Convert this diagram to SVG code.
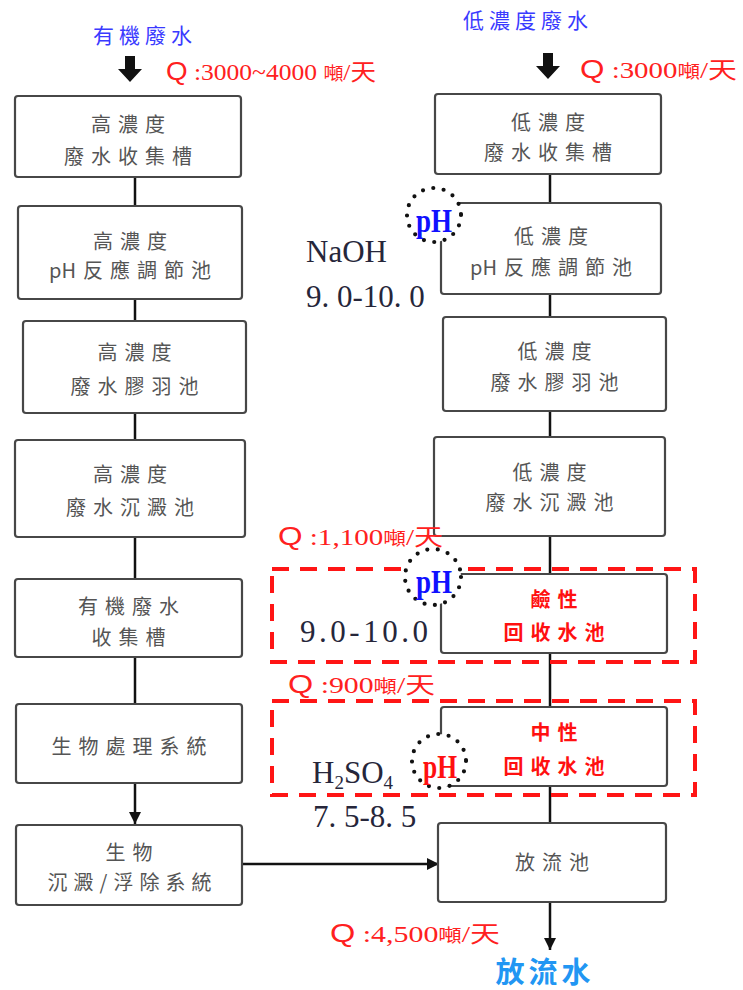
<svg xmlns="http://www.w3.org/2000/svg" width="743" height="990" viewBox="0 0 743 990">
<style>
.box{fill:#fff;stroke:#474747;stroke-width:2.2}
.bt{font-family:"Noto Sans CJK TC","Noto Sans CJK SC",sans-serif;font-size:20px;fill:#555;letter-spacing:7px;text-anchor:middle}
.rt{font-family:"Noto Sans CJK TC","Noto Sans CJK SC",sans-serif;font-size:20px;fill:#ff1010;font-weight:bold;letter-spacing:7px;text-anchor:middle}
.ln{stroke:#111;stroke-width:2.5;fill:none}
.dash{fill:none;stroke:#ff1515;stroke-width:4;stroke-dasharray:17 11}
.ring{fill:#fff;stroke:#111;stroke-width:4.2;stroke-linecap:round;stroke-dasharray:0 10.5}
.ph{font-family:"Liberation Serif",serif;font-weight:bold;font-size:34px;text-anchor:middle}
.chem{font-family:"Liberation Serif",serif;font-size:31px;fill:#26263a}
.q{font-family:"Liberation Serif","Noto Sans CJK TC",serif;font-size:23px;fill:#ff2020}
.qq{font-family:"Liberation Sans",sans-serif;font-size:25px}
.top{font-family:"Noto Sans CJK TC","Noto Sans CJK SC",sans-serif;font-size:21px;fill:#3a3aff;letter-spacing:5px;text-anchor:middle}
</style>
<defs>
<marker id="ah" viewBox="0 0 10 10" refX="10" refY="5" markerWidth="5" markerHeight="5" orient="auto" markerUnits="strokeWidth">
<path d="M0,0 L10,5 L0,10 z" fill="#111"/>
</marker>
</defs>

<g id="labels-top">
<text class="top" x="145" y="43">有機廢水</text>
<text class="top" x="528" y="28">低濃度廢水</text>
<path d="M125,56 H135 V69 H142 L130,82 L118,69 H125 Z" fill="#111"/>
<path d="M543,53 H553 V66 H560 L548,79 L536,66 H543 Z" fill="#111"/>
<text class="q" x="166" y="80" textLength="210" lengthAdjust="spacingAndGlyphs"><tspan class="qq">Q</tspan> :3000~4000 <tspan font-size="18">噸</tspan>/天</text>
<text class="q" x="580" y="78" textLength="157" lengthAdjust="spacingAndGlyphs"><tspan class="qq">Q</tspan> :3000<tspan font-size="18">噸</tspan>/天</text>
</g>

<g id="connectors">
<line class="ln" x1="135" y1="177" x2="135" y2="206"/>
<line class="ln" x1="135" y1="299" x2="135" y2="321"/>
<line class="ln" x1="135" y1="413" x2="135" y2="440"/>
<line class="ln" x1="135" y1="537" x2="135" y2="579"/>
<line class="ln" x1="135" y1="657" x2="135" y2="704"/>
<line class="ln" x1="135" y1="783" x2="135" y2="824" marker-end="url(#ah)"/>
<line class="ln" x1="242" y1="864" x2="439" y2="864" marker-end="url(#ah)"/>
<line class="ln" x1="550" y1="174" x2="550" y2="203"/>
<line class="ln" x1="550" y1="294" x2="550" y2="317"/>
<line class="ln" x1="550" y1="411" x2="550" y2="437"/>
<line class="ln" x1="550" y1="536" x2="550" y2="574"/>
<line class="ln" x1="550" y1="653" x2="550" y2="707"/>
<line class="ln" x1="550" y1="786" x2="550" y2="823"/>
<line class="ln" x1="550" y1="902" x2="550" y2="950" marker-end="url(#ah)"/>
</g>

<g id="L1"><rect class="box" x="15" y="96" width="226" height="81" rx="3"/><text class="bt" x="131.5" y="132">高濃度</text><text class="bt" x="131.5" y="164">廢水收集槽</text></g>
<g id="L2"><rect class="box" x="18" y="206" width="224" height="93" rx="3"/><text class="bt" x="133.5" y="249">高濃度</text><text class="bt" x="133.5" y="278"><tspan style="letter-spacing:0">p</tspan>H反應調節池</text></g>
<g id="L3"><rect class="box" x="23" y="321" width="223" height="92" rx="3"/><text class="bt" x="138" y="360">高濃度</text><text class="bt" x="138" y="394">廢水膠羽池</text></g>
<g id="L4"><rect class="box" x="15" y="440" width="230" height="97" rx="3"/><text class="bt" x="133.5" y="482">高濃度</text><text class="bt" x="133.5" y="515">廢水沉澱池</text></g>
<g id="L5"><rect class="box" x="15" y="579" width="227" height="78" rx="3"/><text class="bt" x="132" y="614">有機廢水</text><text class="bt" x="132" y="645">收集槽</text></g>
<g id="L6"><rect class="box" x="16" y="704" width="226" height="79" rx="3"/><text class="bt" x="132.5" y="754">生物處理系統</text></g>
<g id="L7"><rect class="box" x="16" y="825" width="226" height="80" rx="3"/><text class="bt" x="132.5" y="860">生物</text><text class="bt" x="132.5" y="890" style="letter-spacing:6px">沉澱/浮除系統</text></g>

<g id="R1"><rect class="box" x="435" y="94" width="226" height="80" rx="3"/><text class="bt" x="551.5" y="130">低濃度</text><text class="bt" x="551.5" y="160">廢水收集槽</text></g>
<g id="R2"><rect class="box" x="441" y="203" width="220" height="91" rx="3"/><text class="bt" x="554.5" y="244">低濃度</text><text class="bt" x="554.5" y="275"><tspan style="letter-spacing:0">p</tspan>H反應調節池</text></g>
<g id="R3"><rect class="box" x="443" y="317" width="223" height="94" rx="3"/><text class="bt" x="558" y="359">低濃度</text><text class="bt" x="558" y="390">廢水膠羽池</text></g>
<g id="R4"><rect class="box" x="434" y="437" width="231" height="99" rx="3"/><text class="bt" x="553" y="480">低濃度</text><text class="bt" x="553" y="510">廢水沉澱池</text></g>
<g id="R5"><rect class="box" x="441" y="574" width="226" height="79" rx="3"/><text class="rt" x="557.5" y="607">鹼性</text><text class="rt" x="557.5" y="640">回收水池</text></g>
<g id="R6"><rect class="box" x="441" y="707" width="226" height="79" rx="3"/><text class="rt" x="557.5" y="740">中性</text><text class="rt" x="557.5" y="774">回收水池</text></g>
<g id="R7"><rect class="box" x="438" y="823" width="228" height="79" rx="3"/><text class="bt" x="555.5" y="870">放流池</text></g>

<g id="zones">
<rect class="dash" x="272" y="569" width="423" height="93"/>
<rect class="dash" x="272" y="701" width="423" height="94"/>
</g>

<g id="chem">
<text class="chem" x="306" y="262">NaOH</text>
<text class="chem" x="306" y="307">9. 0-10. 0</text>
<text class="chem" x="300" y="642" textLength="128" lengthAdjust="spacing">9.0-10.0</text>
<text class="chem" x="312" y="783">H<tspan font-size="19" dy="6">2</tspan><tspan dy="-6">SO</tspan><tspan font-size="19" dy="6">4</tspan></text>
<text class="chem" x="313" y="827">7. 5-8. 5</text>
</g>

<g id="flows">
<text class="q" x="278" y="545" textLength="165" lengthAdjust="spacingAndGlyphs"><tspan class="qq">Q</tspan> :1,100<tspan font-size="18">噸</tspan>/天</text>
<text class="q" x="288" y="693" textLength="147" lengthAdjust="spacingAndGlyphs"><tspan class="qq">Q</tspan> :900<tspan font-size="18">噸</tspan>/天</text>
<text class="q" x="330" y="942" textLength="170" lengthAdjust="spacingAndGlyphs"><tspan class="qq">Q</tspan> :4,500<tspan font-size="18">噸</tspan>/天</text>
<text x="545" y="983" font-family="Noto Sans CJK TC,Noto Sans CJK SC,sans-serif" font-size="29" font-weight="bold" fill="#2196f3" text-anchor="middle" letter-spacing="4">放流水</text>
</g>

<g id="ph1"><circle class="ring" cx="434" cy="215" r="27"/><text class="ph" x="434" y="232" fill="#1010ff" textLength="36" lengthAdjust="spacingAndGlyphs">pH</text></g>
<g id="ph2"><circle class="ring" cx="433" cy="577" r="28"/><text class="ph" x="434" y="593" fill="#1010ff" textLength="36" lengthAdjust="spacingAndGlyphs">pH</text></g>
<g id="ph3"><circle class="ring" cx="439" cy="761" r="27"/><text class="ph" x="440" y="778" fill="#ff1010" font-size="30" textLength="34" lengthAdjust="spacingAndGlyphs">pH</text></g>
</svg>
